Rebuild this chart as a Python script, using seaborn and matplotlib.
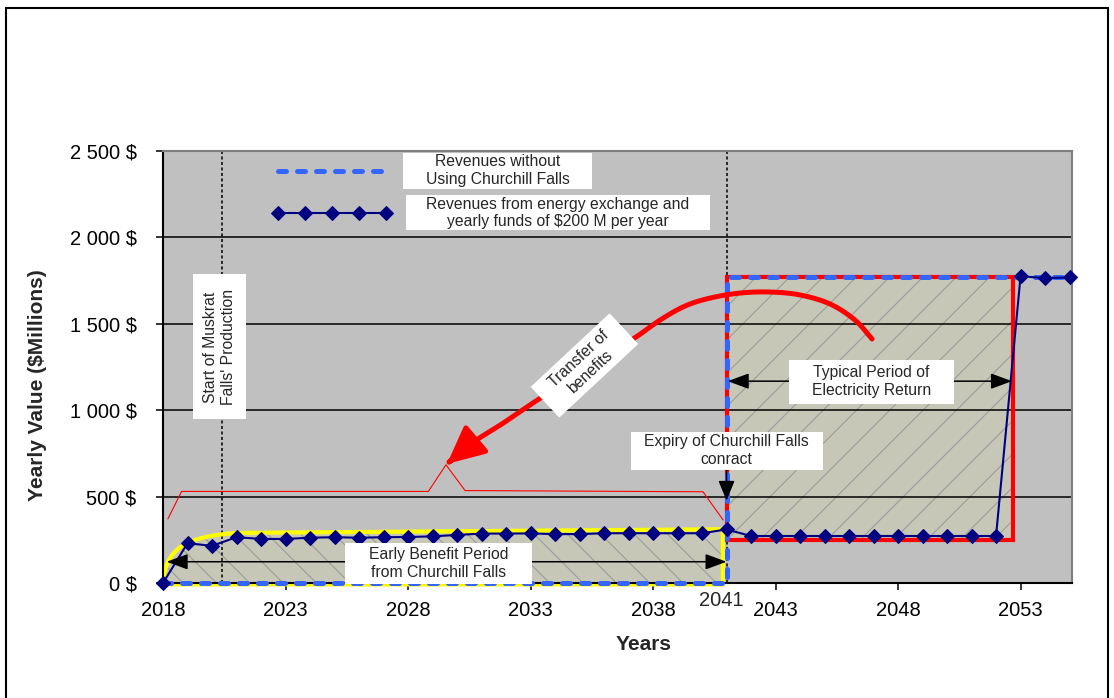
import matplotlib
matplotlib.use("Agg")
import matplotlib.pyplot as plt
import matplotlib.transforms as mtransforms
import numpy as np
import seaborn as sns
import pandas as pd
from matplotlib.path import Path
from matplotlib.patches import PathPatch, Rectangle, FancyArrowPatch
from matplotlib.ticker import FuncFormatter, FixedLocator

# ---------------------------------------------------------------- data ----
years = list(range(2018, 2056))

# Revenues without using Churchill Falls ($M per year)
revenues_without_cf = [
    0, 0, 0, 0, 0, 0, 0, 0, 0, 0, 0, 0, 0, 0, 0, 0, 0, 0, 0, 0, 0, 0, 0,
    1770, 1770, 1770, 1770, 1770, 1770, 1770, 1770, 1770, 1770, 1770, 1770,
    1770, 1770, 1770,
]

# Revenues from energy exchange and yearly funds of $200 M per year ($M)
revenues_exchange = [
    0, 230, 215, 265, 255, 255, 262, 265, 262, 265, 266, 270, 278, 286, 286,
    287, 283, 283, 288, 288, 288, 288, 288, 310,
    272, 272, 272, 272, 272, 272, 272, 272, 272, 272, 272,
    1775, 1765, 1768,
]

x_ticks = [2018, 2023, 2028, 2033, 2038, 2043, 2048, 2053]
y_ticks = [0, 500, 1000, 1500, 2000, 2500]

label_without = "Revenues without\nUsing Churchill Falls"
label_exchange = "Revenues from energy exchange and\nyearly funds of \\$200 M per year"

# key dates
muskrat_start = 2020.4
cf_expiry = 2041

# early benefit envelope (yellow outline) and electricity-return block
early_envelope = [(2018.0, -8), (2018.08, 200), (2018.9, 268), (2021.0, 290),
                  (2040.85, 311), (2040.85, -8), (2018.0, -8)]
return_block_x = (2041.0, 2052.7)
return_block_y = (248, 1770)

# thin red bracket under the transfer arrow
bracket_x = [2018.2, 2018.76, 2028.83, 2029.55, 2030.33, 2040.04, 2040.86]
bracket_y = [371, 530, 530, 684, 535, 528, 365]

# thick "transfer of benefits" arrow course (waypoints)
transfer_x = [2046.94, 2046.24, 2045.22, 2044.0, 2042.78, 2041.55, 2040.33,
              2039.31, 2038.29, 2037.31, 2035.27, 2033.22, 2031.96, 2030.61,
              2029.59]
transfer_y = [1412, 1522, 1615, 1667, 1684, 1678, 1649, 1603, 1522, 1424,
              1238, 1053, 932, 810, 689]

df = pd.DataFrame({"year": years,
                   "without": revenues_without_cf,
                   "exchange": revenues_exchange})

# --------------------------------------------------------------- style ----
sns.set_theme(style="ticks")
plt.rcParams["font.family"] = ["Liberation Sans", "DejaVu Sans"]
plt.rcParams["hatch.linewidth"] = 0.8

NAVY = "#000080"
BLUE = "#3366FF"
RED = "#FF0000"
YELLOW = "#FFFF00"
PLOT_BG = "#C0C0C0"
FILL = "#C7C7B7"
HATCH = "#9C9C9C"
TXT = 11.3


def fixed_box(width, height):
    """Box style of a fixed pixel size centred on the text."""
    def style(x0, y0, w, h, mutation_size):
        cx, cy = x0 + w / 2, y0 + h / 2
        l, b = cx - width / 2, cy - height / 2
        return Path([(l, b), (l + width, b), (l + width, b + height),
                     (l, b + height), (l, b)], closed=True)
    return style


def white_box(width, height):
    return dict(boxstyle=fixed_box(width, height), facecolor="white",
                edgecolor="none")


def catmull_rom(xs, ys, steps=12):
    """Smooth curve through the given waypoints."""
    p = np.column_stack([xs, ys]).astype(float)
    p = np.vstack([2 * p[0] - p[1], p, 2 * p[-1] - p[-2]])
    out = []
    t = np.linspace(0, 1, steps, endpoint=False)[:, None]
    for i in range(1, len(p) - 2):
        p0, p1, p2, p3 = p[i - 1], p[i], p[i + 1], p[i + 2]
        out.append(0.5 * ((2 * p1) + (-p0 + p2) * t
                          + (2 * p0 - 5 * p1 + 4 * p2 - p3) * t ** 2
                          + (-p0 + 3 * p1 - 3 * p2 + p3) * t ** 3))
    out.append(p[-2][None, :])
    return np.vstack(out)


fig = plt.figure(figsize=(11.14, 6.98), dpi=100)
fig.patch.set_facecolor("white")
ax = fig.add_axes([163 / 1114, 115 / 698, 909 / 1114, 432 / 698])
ax.set_facecolor(PLOT_BG)

# outer chart frame
fig.add_artist(Rectangle((6 / 1114, -0.02), 1102 / 1114, 690 / 698 + 0.02,
                         transform=fig.transFigure, fill=False,
                         edgecolor="black", linewidth=1.5, clip_on=False))

# --------------------------------------------------------- shaded areas ----
env = Path(early_envelope, [Path.MOVETO, Path.CURVE4, Path.CURVE4, Path.CURVE4,
                            Path.LINETO, Path.LINETO, Path.CLOSEPOLY])
ax.add_patch(PathPatch(env, facecolor=FILL, edgecolor="none", zorder=0.2))
ax.add_patch(PathPatch(env, fill=False, edgecolor=HATCH, hatch="\\",
                       linewidth=0, zorder=0.3))
ax.add_patch(PathPatch(env, fill=False, edgecolor=YELLOW, linewidth=3,
                       zorder=2, clip_on=False))

bw = return_block_x[1] - return_block_x[0]
bh = return_block_y[1] - return_block_y[0]
ax.add_patch(Rectangle((return_block_x[0], return_block_y[0]), bw, bh,
                       facecolor=FILL, edgecolor="none", zorder=0.2))
ax.add_patch(Rectangle((return_block_x[0], return_block_y[0]), bw, bh,
                       fill=False, edgecolor=HATCH, hatch="/", linewidth=0,
                       zorder=0.3))
ax.add_patch(Rectangle((return_block_x[0], return_block_y[0]), bw, bh,
                       fill=False, edgecolor=RED, linewidth=3, zorder=2))

# ----------------------------------------------------------- grid/axes ----
ax.set_axisbelow(True)
ax.yaxis.grid(True, color="black", linewidth=1.1)
ax.xaxis.grid(False)

for xv in (muskrat_start, cf_expiry):
    ax.axvline(xv, color="black", linewidth=1.1, linestyle=(0, (2, 1.6)),
               zorder=1)

# ------------------------------------------------------------- series ----
sns.lineplot(data=df, x="year", y="without", ax=ax, color=BLUE, linewidth=3.6,
             linestyle=(0, (1.6, 2.2)), dash_capstyle="round",
             drawstyle="steps-post", label=label_without, zorder=3,
             clip_on=False)
line_without = ax.lines[-1]
sns.lineplot(data=df, x="year", y="exchange", ax=ax, color=NAVY, linewidth=1.5,
             marker="D", markersize=7, markeredgecolor=NAVY,
             markerfacecolor=NAVY, label=label_exchange, zorder=4,
             clip_on=False)
line_exchange = ax.lines[-1]

# thin red bracket
ax.plot(bracket_x, bracket_y, color=RED, linewidth=0.8, zorder=2)

# thick transfer arrow
curve = catmull_rom(transfer_x, transfer_y)
tp = Path(curve, [Path.MOVETO] + [Path.LINETO] * (len(curve) - 1))
ax.add_patch(FancyArrowPatch(path=tp,
                             arrowstyle="-|>,head_length=1.15,head_width=0.55",
                             mutation_scale=20, color=RED, linewidth=3.6,
                             capstyle="round", joinstyle="round", zorder=5))

# period arrows
arrow_kw = dict(arrowstyle="<|-|>,head_length=0.65,head_width=0.24",
                mutation_scale=20, color="black", linewidth=1.1,
                shrinkA=0, shrinkB=0)
ax.annotate("", xy=(2018.15, 123), xytext=(cf_expiry, 123),
            arrowprops=arrow_kw, zorder=5)
ax.annotate("", xy=(2041.05, 1168), xytext=(2052.65, 1168),
            arrowprops=arrow_kw, zorder=5)
ax.annotate("", xy=(cf_expiry, 477), xytext=(cf_expiry, 655),
            arrowprops=dict(arrowstyle="-|>,head_length=0.61,head_width=0.25",
                            mutation_scale=20, color="black", linewidth=1.1,
                            shrinkA=0, shrinkB=0), zorder=5)

# ----------------------------------------------------------- callouts ----
ax.text(2029.24, 113, "Early Benefit Period\nfrom Churchill Falls",
        ha="center", va="center", multialignment="center", fontsize=TXT,
        bbox=white_box(187, 41), zorder=6)
ax.text(2046.92, 1166, "Typical Period of\nElectricity Return",
        ha="center", va="center", multialignment="center", fontsize=TXT,
        bbox=white_box(165, 44), zorder=6)
ax.text(cf_expiry, 766, "Expiry of Churchill Falls\nconract",
        ha="center", va="center", multialignment="center", fontsize=TXT,
        bbox=white_box(192, 38), zorder=6)
ax.text(2020.31, 1366, "Start of Muskrat\nFalls' Production", rotation=90,
        ha="center", va="center", multialignment="center", fontsize=TXT,
        rotation_mode="anchor", bbox=white_box(145, 53), zorder=6)
ax.text(2035.2, 1259, "Transfer of\nbenefits", rotation=43,
        ha="center", va="center", multialignment="center", fontsize=TXT,
        rotation_mode="anchor", bbox=white_box(108, 42), zorder=6)

# ---------------------------------------------------------------- axes ----
ax.set_xlim(2018, 2055.1)
ax.set_ylim(0, 2500)
ax.xaxis.set_major_locator(FixedLocator(x_ticks))
ax.yaxis.set_major_locator(FixedLocator(y_ticks))
ax.xaxis.set_major_formatter(FuncFormatter(lambda v, _: f"{int(round(v))}"))
ax.yaxis.set_major_formatter(
    FuncFormatter(lambda v, _: f"{int(v):,}".replace(",", " ") + " \\$"))
ax.tick_params(axis="both", direction="out", length=5, width=1.1,
               color="black", labelsize=14.5, labelcolor="black")
ax.tick_params(axis="x", pad=8)
ax.tick_params(axis="y", pad=14)

for side in ("left", "bottom"):
    ax.spines[side].set_color("black")
    ax.spines[side].set_linewidth(1.5)
for side in ("top", "right"):
    ax.spines[side].set_visible(True)
    ax.spines[side].set_color("#7F7F7F")
    ax.spines[side].set_linewidth(1.5)

trans = mtransforms.blended_transform_factory(ax.transData, ax.transAxes)
ax.text(2040.8, -0.04, "2041", transform=trans, ha="center", va="center",
        fontsize=14.5, bbox=white_box(68, 22), zorder=10, clip_on=False)

ax.set_xlabel("Years", fontsize=15, fontweight="bold")
ax.set_ylabel("Yearly Value (\\$Millions)", fontsize=15, fontweight="bold")
ax.xaxis.set_label_coords(0.529, -0.1435)
ax.yaxis.set_label_coords(-0.138, 0.457)
ax.xaxis.label.set_va("center")
ax.yaxis.label.set_va("center")

# -------------------------------------------------------------- legend ----
leg = ax.legend([line_without, line_exchange], [label_without, label_exchange],
                loc="upper left", bbox_to_anchor=(0.1214, 0.992), frameon=False,
                fontsize=TXT, handlelength=7.48, handletextpad=2.25,
                labelspacing=0.62, borderpad=0, borderaxespad=0, numpoints=5)
for t, size in zip(leg.get_texts(), [(189, 36), (304, 35)]):
    t.set_multialignment("center")
    t.set_bbox(white_box(*size))

fig.savefig("out.png", dpi=100, facecolor="white")
